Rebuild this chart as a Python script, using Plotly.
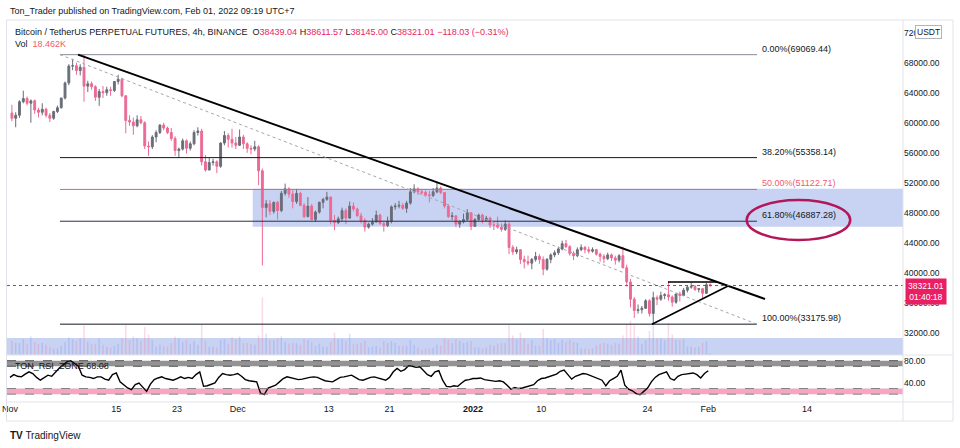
import pandas as pd
import plotly.graph_objects as go

# ---------------- data (12h bars, two per day) ----------------
bar_start = "2021-11-01 00:00"
opens = [61300, 60600, 61000, 62800, 63230, 62600, 62930, 61700, 61400, 61800,
         61000, 60600, 61500, 62000, 63300, 65300, 67550, 67600, 66950, 67400,
         64880, 65200, 64800, 63400, 64150, 64000, 64400, 64300, 65500, 65800,
         63600, 60300, 60100, 59600, 60400, 60000, 56900, 56800, 58100, 58700,
         59700, 59300, 58700, 57900, 56300, 56500, 57600, 56600, 57200, 58700,
         58900, 54800, 53700, 54700, 54800, 54200, 57300, 58300, 57800, 57300,
         57000, 58100, 57200, 56600, 56500, 56800, 53600, 48700, 49200, 48200,
         49400, 48300, 50600, 51200, 50500, 49500, 50600, 49000, 47500, 48900,
         47100, 48100, 49400, 49800, 50100, 47000, 46700, 47200, 48300, 47300,
         48900, 48500, 47600, 47000, 46100, 46500, 46800, 47700, 46600, 46300,
         46900, 48800, 48900, 49000, 48600, 49300, 50800, 51200, 50800, 50700,
         50400, 50300, 50800, 51300, 50700, 48900, 47500, 47600, 46500, 46800,
         47100, 48000, 46200, 47100, 47700, 47000, 47300, 46400, 46400, 46100,
         45800, 46500, 43400, 42800, 43100, 41800, 41500, 41300, 41800, 42200,
         41800, 40500, 41800, 42400, 42700, 43200, 43900, 43500, 42600, 42300,
         43100, 43400, 43100, 42900, 43100, 42500, 42200, 41900, 42400, 42000,
         41700, 42300, 40700, 38800, 36500, 35000, 35100, 35300, 36300, 34600,
         36700, 36500, 37000, 37100, 36800, 36100, 37200, 37000, 37700, 38100,
         38200, 37800, 37900, 37300, 38439.04]
highs = [62400, 61400, 63000, 64270, 63500, 63100, 63100, 62000, 62600, 62000,
         61300, 61600, 62300, 63300, 65500, 67800, 68530, 68000, 67800, 69069.44,
         65600, 65500, 65000, 64500, 64900, 64800, 64800, 65500, 66400, 66000,
         63600, 61000, 60700, 61000, 60900, 60200, 57500, 58350, 59000, 59800,
         60000, 59500, 59300, 58200, 56700, 57900, 57800, 57500, 59000, 59400,
         59200, 55700, 55300, 55200, 55000, 57400, 58900, 58600, 59200, 58100,
         59100, 58400, 57400, 57000, 57600, 57000, 53900, 49700, 49700, 49500,
         49600, 50900, 51900, 51400, 51000, 51200, 50800, 49300, 50100, 49200,
         48300, 49500, 50000, 50800, 50200, 47700, 47500, 48700, 48600, 49500,
         49400, 48700, 48000, 47300, 46700, 47300, 48300, 47900, 46900, 47500,
         49000, 49300, 49600, 49300, 49600, 51300, 51800, 51400, 51200, 51000,
         50900, 51300, 52100, 51500, 50700, 49100, 48100, 47700, 47000, 47900,
         48500, 48100, 47300, 47900, 47900, 47600, 47500, 46900, 47500, 46600,
         47000, 46800, 43700, 43500, 43100, 42300, 42300, 42000, 42800, 42500,
         42200, 42000, 42600, 43000, 43500, 44300, 44400, 43700, 42900, 43400,
         43800, 43600, 43500, 43400, 43200, 42700, 42500, 42700, 42600, 42300,
         42500, 43500, 41100, 39200, 36800, 35800, 35600, 36500, 36500, 37500,
         37000, 37500, 37300, 38900, 37000, 37200, 37500, 38000, 38400, 38700,
         38400, 38000, 38000, 38700, 38611.57]
lows = [60200, 59400, 60650, 62600, 62300, 60000, 61200, 60700, 61000, 60700,
        60100, 60400, 61300, 61900, 63100, 65000, 67000, 66380, 66300, 62800,
        64100, 64400, 62900, 62250, 63300, 63600, 63600, 64100, 65100, 63400,
        58600, 59600, 58400, 59400, 59800, 56500, 55600, 56500, 57400, 58500,
        59000, 58500, 57600, 55600, 55300, 56300, 55900, 56300, 57000, 58300,
        54300, 53500, 53700, 54300, 53300, 54000, 57000, 56700, 56700, 56500,
        56900, 56500, 56000, 55800, 56200, 51700, 41000, 47400, 47700, 47900,
        47100, 48100, 50300, 50000, 48600, 49200, 48900, 47300, 47400, 47000,
        46800, 47900, 48600, 49600, 46500, 45700, 46500, 46900, 46500, 47200,
        48200, 47500, 46600, 45500, 45900, 46300, 46700, 46400, 45500, 46100,
        46600, 48400, 48600, 48400, 48000, 49100, 50600, 50400, 50400, 50200,
        49400, 50100, 50600, 50500, 48600, 47300, 47000, 46100, 46000, 46600,
        46900, 45700, 46200, 46900, 46600, 46900, 46000, 45700, 45900, 45500,
        45600, 42500, 42400, 42500, 41200, 40600, 41000, 40500, 41500, 41200,
        39700, 40300, 41300, 42100, 42400, 43000, 43300, 42300, 41700, 42100,
        42900, 42600, 42600, 42700, 42300, 41500, 41300, 41700, 41600, 41100,
        41400, 40600, 38200, 35400, 34000, 34600, 34600, 35200, 34200, 33175.98,
        35700, 36300, 36500, 36300, 35500, 35900, 36200, 36900, 37400, 37900,
        37600, 37400, 36600, 37200, 38145.00]
closes = [60600, 61000, 62800, 63230, 62600, 62930, 61700, 61400, 61800, 61000,
          60600, 61500, 62000, 63300, 65300, 67550, 67600, 66950, 67400, 64880,
          65200, 64800, 63400, 64150, 64000, 64400, 64300, 65500, 65800, 63600,
          60300, 60100, 59600, 60400, 60000, 56900, 56800, 58100, 58700, 59700,
          59300, 58700, 57900, 56300, 56500, 57600, 56600, 57200, 58700, 58900,
          54800, 53700, 54700, 54800, 54200, 57300, 58300, 57800, 57300, 57000,
          58100, 57200, 56600, 56500, 56800, 53600, 48700, 49200, 48200, 49400,
          48300, 50600, 51200, 50500, 49500, 50600, 49000, 47500, 48900, 47100,
          48100, 49400, 49800, 50100, 47000, 46700, 47200, 48300, 47300, 48900,
          48500, 47600, 47000, 46100, 46500, 46800, 47700, 46600, 46300, 46900,
          48800, 48900, 49000, 48600, 49300, 50800, 51200, 50800, 50700, 50400,
          50300, 50800, 51300, 50700, 48900, 47500, 47600, 46500, 46800, 47100,
          48000, 46200, 47100, 47700, 47000, 47300, 46400, 46400, 46100, 45800,
          46500, 43400, 42800, 43100, 41800, 41500, 41300, 41800, 42200, 41800,
          40500, 41800, 42400, 42700, 43200, 43900, 43500, 42600, 42300, 43100,
          43400, 43100, 42900, 43100, 42500, 42200, 41900, 42400, 42000, 41700,
          42300, 40700, 38800, 36500, 35000, 35100, 35300, 36300, 34600, 36700,
          36500, 37000, 37100, 36800, 36100, 37200, 37000, 37700, 38100, 38200,
          37800, 37900, 37300, 38439.04, 38321.01]
volumes_k = [150, 130, 130, 170, 120, 200, 140, 120, 130, 110, 90, 70, 70, 100, 140, 190,
             170, 150, 180, 320, 140, 120, 120, 180, 110, 90, 80, 100, 120, 180, 320, 160,
             200, 180, 150, 300, 220, 160, 90, 110, 90, 90, 130, 200, 180, 140, 160, 120,
             150, 110, 330, 150, 90, 90, 80, 160, 170, 120, 190, 170,
             200, 130, 130, 120, 110, 210, 620, 230, 160, 160, 180, 200, 140, 120, 130, 130,
             110, 170, 160, 140, 100, 120, 90, 90, 140, 240, 170, 170, 150, 230, 120, 120,
             130, 150, 80, 90, 100, 80, 150, 130, 150, 130, 100, 100, 100, 160, 110, 80,
             60, 70, 70, 80, 110, 100, 180, 160, 130, 170, 150, 130, 140, 150,
             80, 80, 70, 80, 110, 100, 120, 130, 130, 320, 210, 170, 240, 180, 120, 160,
             100, 100, 280, 180, 160, 170, 130, 160, 140, 160, 140, 130, 70, 70, 60, 70,
             100, 120, 130, 120, 110, 130, 120, 210, 330, 370, 320, 200, 120, 160, 260, 360,
             180, 180, 160, 340, 220, 160, 160, 170, 90, 90, 80, 90, 130, 150, 18.462]

rsi = [50, 55, 52, 51, 56, 60, 57, 50, 45, 49, 54, 52, 60, 67, 72, 78, 80, 75, 70, 54,
       51, 50, 48, 51, 51, 47, 45, 55, 58, 42, 36, 31, 28, 37, 40, 33, 25, 38, 46, 49,
       51, 48, 46, 45, 48, 51, 48, 50, 48, 55, 60, 34, 35, 37, 40, 50, 57, 55, 54, 55,
       57, 52, 46, 44, 43, 42, 22, 19, 31, 34, 36, 42, 48, 51, 49, 48, 46, 47, 49, 50,
       51, 50, 47, 44, 43, 42, 46, 50, 51, 53, 54, 50, 46, 45, 48, 50, 51, 49, 47, 45,
       50, 60, 66, 61, 64, 71, 70, 68, 69, 62, 55, 52, 60, 62, 45, 34, 33, 35, 34, 40,
       45, 46, 48, 48, 49, 46, 45, 45, 43, 44, 42, 36, 29, 32, 30, 31, 33, 35, 37, 44,
       48, 49, 51, 54, 56, 61, 63, 55, 47, 52, 54, 57, 56, 53, 50, 48, 45, 35, 44, 48,
       52, 63, 36, 29, 26, 21, 19, 25, 31, 42, 50, 55, 57, 60, 48, 45, 52, 55, 56, 57,
       58, 55, 49, 57, 62]

fib_pct = ["0.00%", "38.20%", "50.00%", "61.80%", "100.00%"]
fib_price = [69069.44, 55358.14, 51122.71, 46887.28, 33175.98]
fib_color = ["#8a8d96", "#131722", "#f05a6e", "#2a3045", "#131722"]
fib_time = ["2021-11-07 14:07", "2022-02-07 10:05"]

trend_time = ["2021-11-09 23:03", "2022-02-08 11:20"]
trend_price = [69069.44, 36528]
tri_top_time = ["2022-01-26 16:33", "2022-02-02 03:36"]
tri_top_price = [38800, 38800]
tri_low_time = ["2022-01-24 13:55", "2022-02-03 14:24"]
tri_low_price = [33175.98, 38260]
zone_time = "2021-12-02 23:31"
zone_price = [46150, 51200]
band_price = [29070, 31330]
ellipse_time = ["2022-02-06 01:26", "2022-02-19 16:48"]
ellipse_price = [44385, 49713]
last_price = 38321.01

x_range = ["2021-10-31 14:30", "2022-02-26 15:43"]
price_range = [29070, 73687]
rsi_range = [5.9, 90.2]
price_ticks = list(range(32000, 76000, 4000))
x_tick_dates = ["2021-11-01", "2021-11-15", "2021-11-23", "2021-12-01", "2021-12-13",
                "2021-12-21", "2022-01-01", "2022-01-10", "2022-01-24", "2022-02-01",
                "2022-02-14"]
x_tick_text = ["Nov", "15", "23", "Dec", "13", "21", "<b>2022</b>", "10", "24", "Feb", "14"]

# ---------------- figure ----------------
FONT = "Liberation Sans, Arial, sans-serif"
TXT = "#131722"
UP = "#6a6d78"
DOWN = "#ec6a94"
ZONE = "#c8d3f3"

bar_open_time = pd.date_range(bar_start, periods=len(opens), freq="12h")
candle_x = bar_open_time + pd.Timedelta(hours=6)
rsi_x = pd.date_range(bar_start, periods=len(rsi), freq="12h")

def PX(px):
    return px / 960

def PY(py):
    return 1 - py / 448

fig = go.Figure()
vol_colors = ["rgba(110,130,230,0.25)" if c >= o else "rgba(236,106,148,0.25)"
              for o, c in zip(opens, closes)]
fig.add_trace(go.Bar(x=candle_x, y=volumes_k, marker=dict(color=vol_colors, line=dict(width=0)),
                     width=0.2 * 86400000, yaxis="y3", xaxis="x", hoverinfo="skip"))
fig.add_trace(go.Candlestick(
    x=candle_x, open=opens, high=highs, low=lows, close=closes,
    increasing=dict(line=dict(color=UP, width=1), fillcolor=UP),
    decreasing=dict(line=dict(color=DOWN, width=1), fillcolor=DOWN),
    xaxis="x", yaxis="y", whiskerwidth=0))
fig.add_trace(go.Scatter(x=rsi_x, y=rsi, mode="lines", line=dict(color="#000000", width=1.4),
                         xaxis="x", yaxis="y2", hoverinfo="skip"))

shapes = []
shapes.append(dict(type="rect", xref="x", yref="y", x0=zone_time, x1=x_range[1],
                   y0=zone_price[0], y1=zone_price[1], fillcolor=ZONE, line=dict(width=0), layer="below"))
shapes.append(dict(type="rect", xref="x domain", yref="y", x0=0, x1=1,
                   y0=band_price[0], y1=band_price[1], fillcolor=ZONE, line=dict(width=0), layer="below"))
for p, c in zip(fib_price, fib_color):
    shapes.append(dict(type="line", xref="x", yref="y", x0=fib_time[0], x1=fib_time[1], y0=p, y1=p,
                       line=dict(color=c, width=1)))
shapes.append(dict(type="line", xref="x", yref="y", x0=fib_time[0], x1=fib_time[1],
                   y0=fib_price[0], y1=fib_price[-1], line=dict(color="#a3a6af", width=1, dash="dot")))
shapes.append(dict(type="line", xref="x", yref="y", x0=trend_time[0], x1=trend_time[1],
                   y0=trend_price[0], y1=trend_price[1], line=dict(color="#000000", width=2)))
shapes.append(dict(type="line", xref="x", yref="y", x0=tri_top_time[0], x1=tri_top_time[1],
                   y0=tri_top_price[0], y1=tri_top_price[1], line=dict(color="#000000", width=1.6)))
shapes.append(dict(type="line", xref="x", yref="y", x0=tri_low_time[0], x1=tri_low_time[1],
                   y0=tri_low_price[0], y1=tri_low_price[1], line=dict(color="#000000", width=1.6)))
shapes.append(dict(type="circle", xref="x", yref="y", x0=ellipse_time[0], x1=ellipse_time[1],
                   y0=ellipse_price[0], y1=ellipse_price[1], line=dict(color="#b3175a", width=2.5)))
shapes.append(dict(type="line", xref="x domain", yref="y", x0=0, x1=1, y0=last_price, y1=last_price,
                   line=dict(color="#e91e63", width=1, dash="dot")))
shapes.append(dict(type="rect", xref="x domain", yref="y2", x0=0, x1=1, y0=70, y1=80,
                   fillcolor="rgba(120,120,120,0.8)", line=dict(width=0), layer="below"))
shapes.append(dict(type="rect", xref="x domain", yref="y2", x0=0, x1=1, y0=20, y1=30,
                   fillcolor="rgba(240,120,162,0.65)", line=dict(width=0), layer="below"))
for lv, col in [(80, "#505050"), (70, "#505050"), (30, "#808080"), (20, "#808080")]:
    shapes.append(dict(type="line", xref="x domain", yref="y2", x0=0, x1=1, y0=lv, y1=lv,
                       line=dict(color=col, width=1, dash="dash")))
BORDER = "#e0e3eb"
shapes.append(dict(type="rect", xref="paper", yref="paper", x0=PX(6.5), x1=PX(953), y0=PY(421), y1=PY(20),
                   line=dict(color=BORDER, width=1)))
shapes.append(dict(type="line", xref="paper", yref="paper", x0=PX(903), x1=PX(903), y0=PY(421), y1=PY(20),
                   line=dict(color=BORDER, width=1)))
shapes.append(dict(type="line", xref="paper", yref="paper", x0=PX(6.5), x1=PX(953), y0=PY(355), y1=PY(355),
                   line=dict(color=BORDER, width=1)))
shapes.append(dict(type="line", xref="paper", yref="paper", x0=PX(6.5), x1=PX(953), y0=PY(402), y1=PY(402),
                   line=dict(color=BORDER, width=1)))

ann = []
def note(x, y, text, size=9, color=TXT, xanchor="left", **kw):
    d = dict(xref="paper", yref="paper", x=PX(x), y=PY(y), text=text, showarrow=False,
             xanchor=xanchor, yanchor="middle", font=dict(size=size, color=color, family=FONT))
    d.update(kw)
    ann.append(d)

note(8, 11, "Ton_Trader published on TradingView.com, Feb 01, 2022 09:19 UTC+7", size=9)
PK = "#e91e63"
legend = ("Bitcoin / TetherUS PERPETUAL FUTURES, 4h, BINANCE  "
          f"O<span style='color:{PK}'>38439.04</span> H<span style='color:{PK}'>38611.57</span> "
          f"L<span style='color:{PK}'>38145.00</span> C<span style='color:{PK}'>38321.01</span> "
          f"<span style='color:{PK}'>−118.03 (−0.31%)</span>")
note(13, 32, legend, size=9)
note(13, 44, f"Vol  <span style='color:#f05a6e'>18.462K</span>", size=9)
note(13, 366, "TON_RSI_ZONE 68.08", size=9)
note(8, 435, "<b>TV</b> TradingView", size=10)

for pct, p, c in zip(fib_pct, fib_price, fib_color):
    col = "#f05a6e" if pct == "50.00%" else TXT
    ann.append(dict(xref="x", yref="y", x=fib_time[1], y=p, text=f"{pct}({p:.2f})", showarrow=False,
                    xanchor="left", yanchor="middle", xshift=3, yshift=6,
                    font=dict(size=9, color=col, family=FONT)))

ann.append(dict(xref="paper", yref="paper", x=PX(928), y=PY(32), text="USDT", showarrow=False,
                xanchor="center", yanchor="middle", bgcolor="white", bordercolor="#b2b5be",
                borderwidth=1, borderpad=1, font=dict(size=8.5, color=TXT, family=FONT)))
ann.append(dict(xref="paper", yref="paper", x=PX(926), y=PY(291.5), text="38321.01<br>01:40:18",
                showarrow=False, xanchor="center", yanchor="middle", bgcolor="#e91e63",
                borderpad=2, font=dict(size=8.5, color="white", family=FONT)))

fig.update_layout(
    width=960, height=448, margin=dict(l=0, r=0, t=0, b=0, autoexpand=False),
    paper_bgcolor="white", plot_bgcolor="white", showlegend=False,
    font=dict(family=FONT, size=9, color=TXT),
    shapes=shapes, annotations=ann,
    xaxis=dict(domain=[PX(7), PX(903)], anchor="y2", type="date", range=x_range, automargin=False,
               showgrid=False, zeroline=False, showline=False, ticks="",
               tickvals=x_tick_dates, ticktext=x_tick_text, tickfont=dict(size=9, color=TXT),
               rangeslider=dict(visible=False)),
    yaxis=dict(domain=[PY(355), PY(20)], anchor="x", side="right", range=price_range, automargin=False,
               tickvals=price_ticks, ticktext=[f"{v:.2f}" for v in price_ticks],
               showgrid=False, zeroline=False, showline=False, ticks="",
               tickfont=dict(size=8.5, color=TXT)),
    yaxis2=dict(domain=[PY(402), PY(355)], anchor="x", side="right", range=rsi_range, automargin=False,
                tickvals=[40, 80], ticktext=["40.00", "80.00"],
                showgrid=False, zeroline=False, showline=False, ticks="",
                tickfont=dict(size=8.5, color=TXT)),
    yaxis3=dict(overlaying="y", range=[0, 3600], visible=False, automargin=False),
)

fig.write_html("out.html", config={"displayModeBar": False},
               post_script="document.body.style.margin='0';document.body.style.padding='0';"
                           "document.body.style.overflow='hidden';")
